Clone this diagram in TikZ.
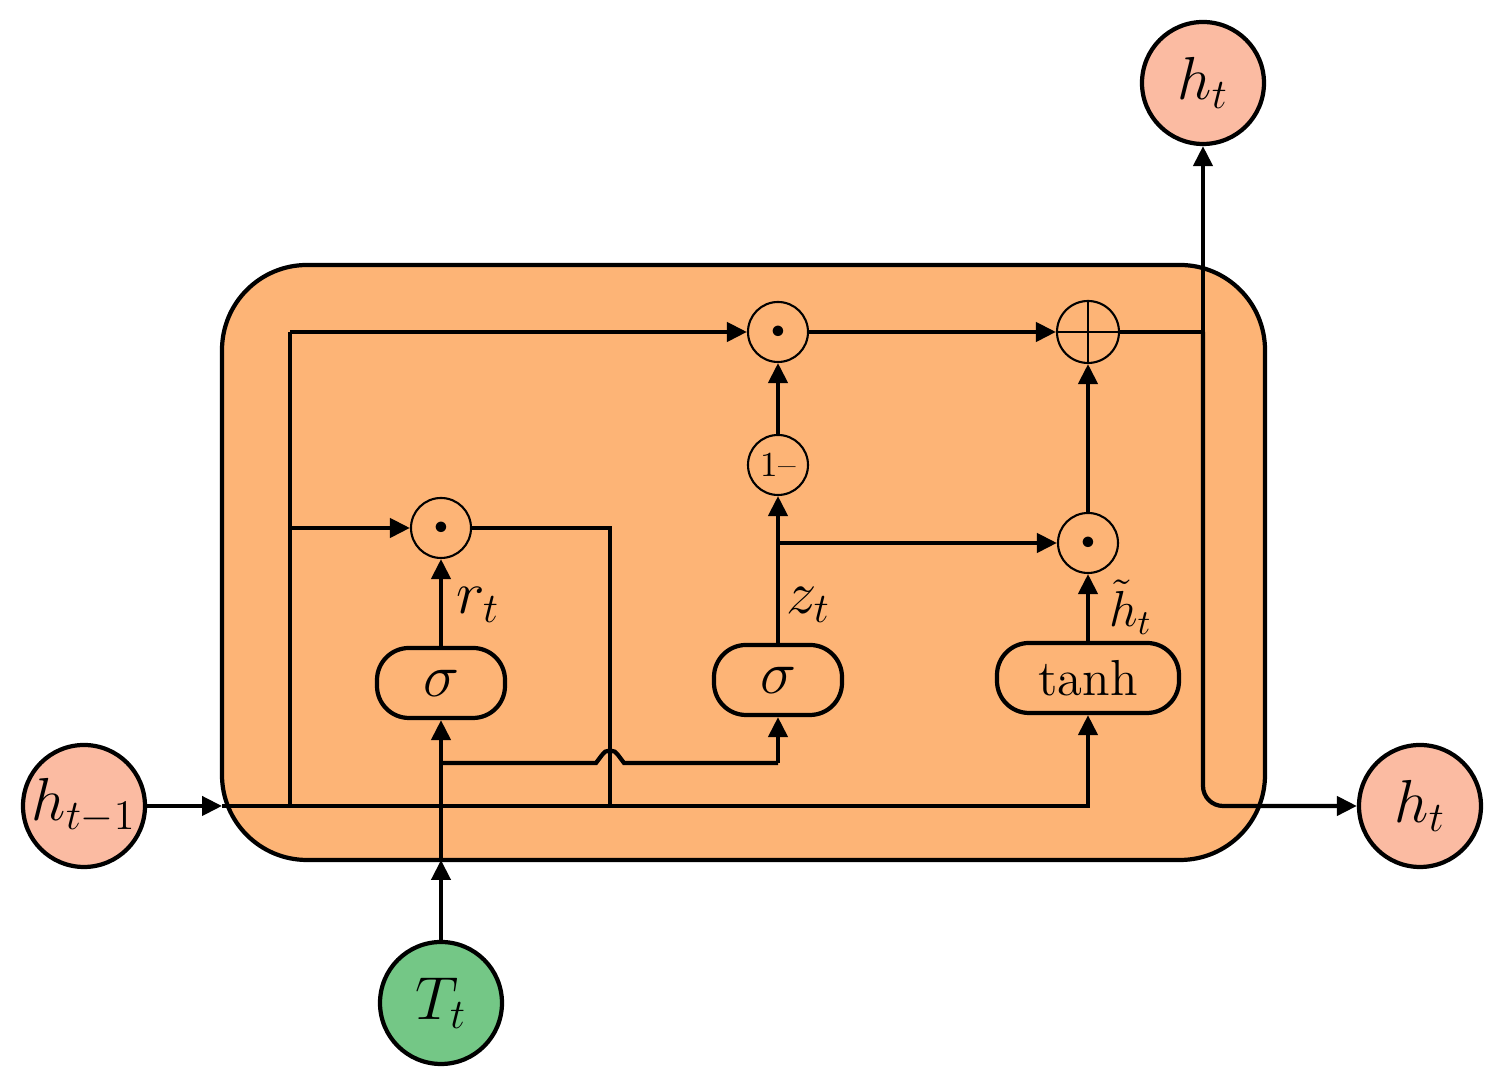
\documentclass[tikz,border=0pt]{standalone}
\usepackage{amsmath,amssymb}
\usepackage{tikz}
\usetikzlibrary{arrows.meta, calc, positioning}

\definecolor{cellorange}{HTML}{FDB476}
\definecolor{hsalmon}{HTML}{FBBBA2}
\definecolor{xgreen}{HTML}{74C786}

\tikzset{
  wire/.style={line width=1.2pt},
  flow/.style={line width=1.2pt, -{Triangle[length=0.2cm,width=0.19cm]}},
  state/.style={circle, draw, line width=1.2pt, fill=hsalmon, minimum size=1.22cm, inner sep=0pt, font=\LARGE},
  gatebox/.style={draw, line width=1.2pt, rounded corners=0.32cm, fill=cellorange, minimum height=0.7cm, font=\LARGE},
  op/.style={circle, draw, line width=0.6pt, fill=cellorange, minimum size=0.6cm, inner sep=0pt},
  lbl/.style={font=\LARGE, inner sep=1pt}
}

\begin{document}
\begin{tikzpicture}
            \useasboundingbox (0,0) rectangle (14.97,10.83);

            % cell
            \draw[line width=1.2pt, fill=cellorange, rounded corners=0.85cm] (2.22,2.23) rectangle (12.65,8.18);

            % junctions
            \coordinate (cellL) at (2.22,2.77);
            \coordinate (cellB) at (4.41,2.23);
            \coordinate (jA) at (2.90,2.77);
            \coordinate (jB) at (2.90,5.55);
            \coordinate (jC) at (2.90,7.51);
            \coordinate (jD) at (6.10,5.55);
            \coordinate (jE) at (6.10,2.77);
            \coordinate (jF) at (4.41,3.20);
            \coordinate (jOut) at (12.03,7.51);

            % gates and operators
            \node[gatebox, minimum width=1.28cm] (sigr) at (4.41,4.00) {$\sigma$};
            \node[gatebox, minimum width=1.28cm] (sigz) at (7.78,4.03) {$\sigma$};
            \node[gatebox, minimum width=1.82cm, font=\Large] (tanhg) at (10.88,4.05) {tanh};
            \node[op, font=\scriptsize] (mulr) at (4.41,5.55) {$\bullet$};
            \node[op, font=\scriptsize] (mulh) at (7.78,7.51) {$\bullet$};
            \node[op, font=\scriptsize] (mulz) at (10.88,5.40) {$\bullet$};
            \node[op, font=\normalsize] (onem) at (7.78,6.18) {1--};
            \node[op, minimum size=0.62cm] (plus) at (10.88,7.51) {};
            \draw[line width=0.6pt] (plus.north) -- (plus.south) (plus.west) -- (plus.east);

            % inputs and outputs
            \node[state] (hprev) at (0.84,2.77) {$h_{t-1}$};
            \node[state] (hout) at (14.20,2.77) {$h_t$};
            \node[state] (htop) at (12.03,10.00) {$h_t$};
            \node[state, fill=xgreen] (xin) at (4.41,0.80) {$T_t$};

            % previous state
            \draw[flow] (hprev) -- (cellL);
            \draw[wire] (cellL) -- (jA) -- (jE);
            \draw[flow] (jE) -| (tanhg.south);
            \draw[wire] (jA) -- (jC);
            \draw[flow] (jC) -- (mulh);
            \draw[flow] (jB) -- (mulr);
            \draw[wire] (mulr) -- (jD) -- (jE);

            % input
            \draw[flow] (xin) -- (cellB);
            \draw[flow] (cellB) -- (sigr);
            \draw[wire] (jF) -- (5.96,3.20) -- (6.02,3.28) .. controls (6.05,3.34) and (6.15,3.34) .. (6.18,3.28) -- (6.24,3.20) -- (7.78,3.20);
            \draw[flow] (7.78,3.20) -- (sigz);

            % gates
            \draw[flow] (sigr) -- (mulr);
            \draw[flow] (sigz) -- (onem);
            \draw[flow] (onem) -- (mulh);
            \draw[flow] (sigz |- mulz) -- (mulz);
            \draw[flow] (tanhg) -- (mulz);
            \draw[flow] (mulz) -- (plus);
            \draw[flow] (mulh) -- (plus);

            % output
            \draw[wire] (plus) -- (jOut);
            \draw[flow] (jOut) -- (htop);
            \draw[flow, rounded corners=0.2cm] (jOut) |- (hout);

            % labels
            \node[lbl, anchor=west] at (4.52,4.78) {$r_t$};
            \node[lbl, anchor=west] at (7.82,4.78) {$z_t$};
            \node[lbl, anchor=west, font=\Large] at (11.05,4.76) {$\tilde{h}_t$};
\end{tikzpicture}
\end{document}
